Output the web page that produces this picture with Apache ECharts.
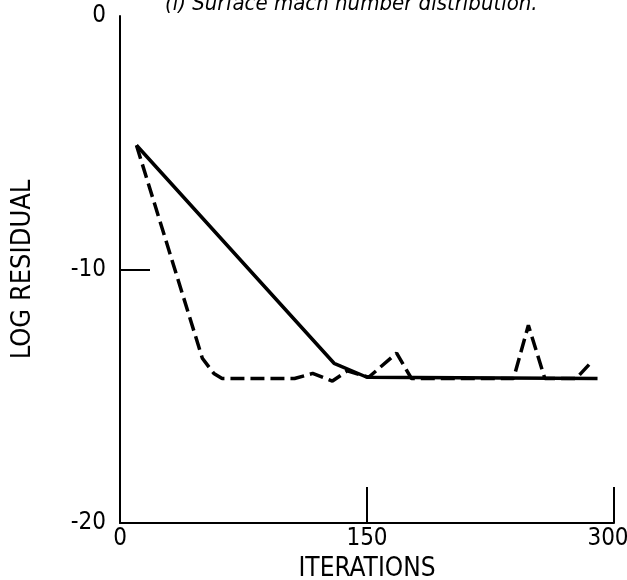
<!DOCTYPE html>
<html>
<head>
<meta charset="utf-8">
<script src="https://cdn.jsdelivr.net/npm/echarts@6/dist/echarts.min.js"></script>
<style>
  html, body { margin: 0; padding: 0; background: #fff; }
  #chart { width: 627px; height: 580px; }
</style>
</head>
<body>
<div id="chart"></div>
<script>
// iterations / log residual
const solidIter = [10, 130, 150, 290];
const solidRes = [-5.1, -13.7, -14.25, -14.3];

const dashIter = [10, 50, 57, 62, 106, 117, 129, 138, 151, 168, 177, 239, 248, 258, 277, 287];
const dashRes = [-5.1, -13.5, -14.1, -14.3, -14.3, -14.1, -14.4, -14.0, -14.25, -13.3, -14.3, -14.3, -12.2, -14.3, -14.3, -13.6];

const xTicks = [150, 300];
const yTicks = [-10];
const yLabels = [0, -10, -20];
const xLabels = [0, 150, 300];

const font = '"Liberation Sans Narrow", "DejaVu Sans Condensed", "DejaVu Sans", sans-serif';

const chart = echarts.init(document.getElementById('chart'));
chart.setOption({
  animation: false,
  title: {
    text: '(i) Surface mach number distribution.',
    left: 160,
    top: -12,
    textStyle: { fontFamily: font, fontSize: 22, fontWeight: 'normal', fontStyle: 'italic', color: '#000' }
  },
  grid: { left: 120, right: 13, top: 16, bottom: 57, outerBoundsMode: 'none', containLabel: false },
  xAxis: {
    type: 'value',
    min: 0,
    max: 300,
    interval: 150,
    name: 'ITERATIONS',
    nameLocation: 'middle',
    nameGap: 30,
    nameTextStyle: { fontFamily: font, fontSize: 26, color: '#000' },
    axisLine: { onZero: false, lineStyle: { color: '#000', width: 2 } },
    axisTick: { show: true, inside: true, length: 36, customValues: xTicks, lineStyle: { color: '#000', width: 2 } },
    axisLabel: {
      customValues: xLabels,
      fontFamily: font,
      fontSize: 24,
      color: '#000',
      margin: 4,
      // keep the last label inside the page
      formatter: v => (v === 300 ? '{r|' + v + '}' : String(v)),
      rich: { r: { fontFamily: font, fontSize: 24, color: '#000', padding: [0, 12, 0, 0] } }
    },
    splitLine: { show: false }
  },
  yAxis: {
    type: 'value',
    min: -20,
    max: 0,
    interval: 10,
    name: 'LOG RESIDUAL',
    nameLocation: 'middle',
    nameGap: 84,
    nameTextStyle: { fontFamily: font, fontSize: 27, color: '#000' },
    axisLine: { show: true, onZero: false, lineStyle: { color: '#000', width: 2 } },
    axisTick: { show: true, inside: true, length: 30, customValues: yTicks, lineStyle: { color: '#000', width: 2 } },
    axisLabel: { customValues: yLabels, fontFamily: font, fontSize: 24, color: '#000', margin: 14 },
    splitLine: { show: false }
  },
  series: [
    {
      name: 'solid',
      type: 'line',
      data: solidIter.map((x, i) => [x, solidRes[i]]),
      showSymbol: false,
      lineStyle: { color: '#000', width: 3.5, type: 'solid' }
    },
    {
      name: 'dashed',
      type: 'line',
      data: dashIter.map((x, i) => [x, dashRes[i]]),
      showSymbol: false,
      lineStyle: { color: '#000', width: 3.5, type: [14, 6] }
    }
  ]
});
</script>
</body>
</html>
